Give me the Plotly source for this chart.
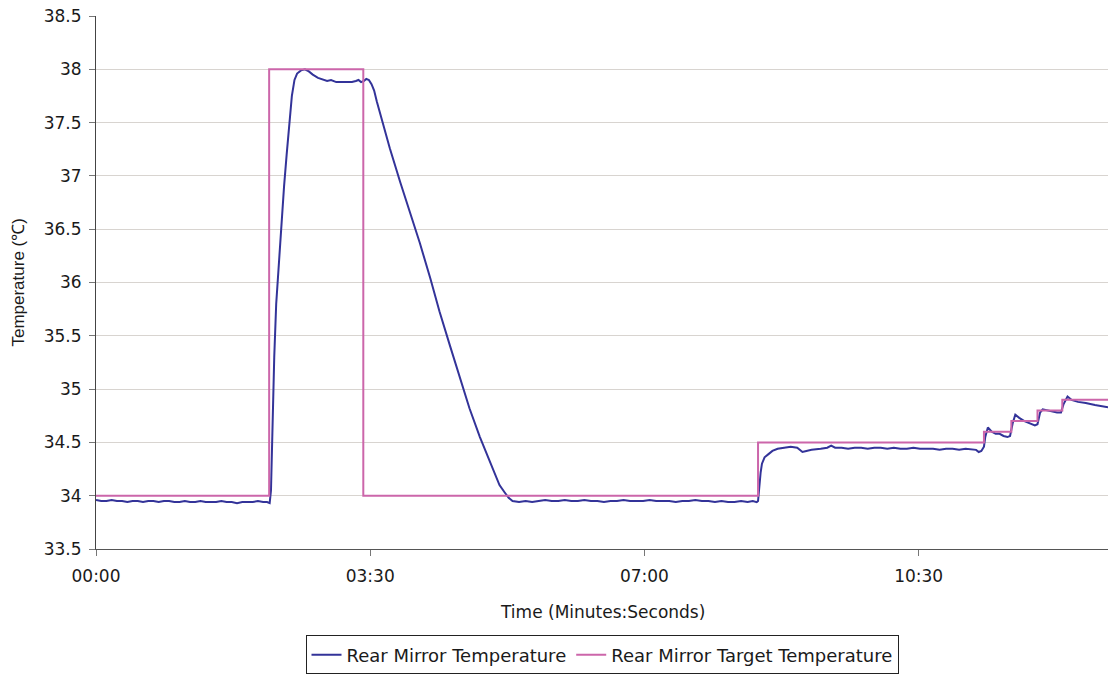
import plotly.graph_objects as go

# Rear mirror temperature log (time in seconds, temperature in °C)
meas_t = [
    0, 4, 8, 12, 16, 20, 24, 28, 32, 36, 40, 44, 48, 52, 56, 60, 64, 68, 72, 76,
    80, 84, 88, 92, 96, 100, 104, 108, 112, 116, 120, 124, 128, 131, 133,
    134, 135, 136.5, 138, 140, 142, 144, 146, 148, 150, 152, 154, 157, 160, 163,
    166, 170, 174, 177, 180, 184, 188, 192, 196, 199, 201, 203, 205, 207, 209,
    211, 213, 215, 218, 221, 225, 233, 241, 248, 256, 263, 271, 279, 286, 294,
    302, 309, 313, 316, 319, 324, 329, 334, 339, 344, 349, 354, 359, 364, 369,
    374, 379, 384, 389, 394, 399, 404, 409, 414, 419, 424, 429, 434, 439, 444,
    449, 454, 459, 464, 469, 474, 479, 484, 489, 494, 499, 503, 506,
    507, 508, 509, 510, 512, 515, 518, 522, 527, 532, 537, 539, 541, 544, 548,
    555, 560, 563, 566, 571, 576, 581, 586, 591, 596, 601, 606, 611, 616, 621,
    626, 631, 636, 641, 646, 651, 656, 661, 666, 671, 674, 676, 678, 680,
    681, 683, 686, 689, 692, 695, 698, 700, 702, 704, 707, 711, 715, 719, 721,
    723, 725, 728, 732, 736, 739, 741, 744, 747, 752, 758, 765, 770, 775,
]
meas_v = [
    33.96, 33.95, 33.95, 33.96, 33.95, 33.95, 33.94, 33.95, 33.95, 33.94, 33.95,
    33.95, 33.94, 33.95, 33.95, 33.94, 33.94, 33.95, 33.94, 33.94, 33.95, 33.94,
    33.94, 33.94, 33.95, 33.94, 33.94, 33.93, 33.94, 33.94, 33.94, 33.95, 33.94,
    33.94, 33.93,
    34.05, 34.6, 35.3, 35.8, 36.2, 36.6, 36.9, 37.2, 37.5, 37.75, 37.9, 37.96,
    37.99, 38.0, 37.98, 37.95, 37.92, 37.9, 37.89, 37.9, 37.88, 37.88, 37.88,
    37.88, 37.89, 37.9, 37.88, 37.89, 37.91, 37.9, 37.86, 37.8, 37.7, 37.57,
    37.44, 37.26, 36.94, 36.64, 36.37, 36.04, 35.73, 35.41, 35.1, 34.82, 34.55,
    34.3, 34.1, 34.03, 33.98, 33.95, 33.94, 33.95, 33.94, 33.95, 33.96, 33.95,
    33.95, 33.96, 33.95, 33.95, 33.96, 33.95, 33.95, 33.94, 33.95, 33.95, 33.96,
    33.95, 33.95, 33.95, 33.96, 33.95, 33.95, 33.95, 33.94, 33.95, 33.95, 33.96,
    33.95, 33.95, 33.94, 33.95, 33.94, 33.94, 33.95, 33.94, 33.95, 33.94,
    33.95, 34.12, 34.22, 34.3, 34.36, 34.39, 34.42, 34.44, 34.45, 34.46, 34.45,
    34.43, 34.41, 34.42, 34.43, 34.44, 34.45, 34.47, 34.45, 34.45, 34.44, 34.45,
    34.45, 34.44, 34.45, 34.45, 34.44, 34.45, 34.44, 34.44, 34.45, 34.44, 34.44,
    34.44, 34.43, 34.44, 34.44, 34.43, 34.44, 34.43, 34.43, 34.41, 34.42, 34.46,
    34.55, 34.64, 34.6, 34.58, 34.58, 34.56, 34.55, 34.56, 34.68, 34.76, 34.73,
    34.7, 34.68, 34.66, 34.67, 34.78, 34.81, 34.8, 34.79, 34.78, 34.78, 34.86,
    34.93, 34.9, 34.88, 34.87, 34.85, 34.84, 34.83,
]

# Controller set point (step changes)
target_t = [0, 132.6, 204.7, 507.0, 680.0, 701.0, 721.0, 740.0, 775.0]
target_v = [34.0, 38.0, 34.0, 34.5, 34.6, 34.7, 34.8, 34.9, 34.9]

x_tick_seconds = [0, 210, 420, 630]
x_tick_labels = [f"{s // 60:02d}:{s % 60:02d}" for s in x_tick_seconds]
y_ticks = [33.5, 34, 34.5, 35, 35.5, 36, 36.5, 37, 37.5, 38, 38.5]
y_tick_labels = [f"{v:g}" for v in y_ticks]

WIDE = "DejaVu Sans, Verdana, sans-serif"
NARROW = "Liberation Sans, Arial, sans-serif"
TEXT = "#1a1a1a"

fig = go.Figure()
fig.add_trace(go.Scatter(
    x=meas_t, y=meas_v, mode="lines", name="Rear Mirror Temperature",
    line=dict(color="#333399", width=2),
))
fig.add_trace(go.Scatter(
    x=target_t, y=target_v, mode="lines", name="Rear Mirror Target Temperature",
    line=dict(color="#CC66AA", width=2, shape="hv"),
))

fig.update_layout(
    width=1112, height=677,
    margin=dict(l=96, r=4, t=16, b=127),
    paper_bgcolor="white", plot_bgcolor="white",
    font=dict(family=WIDE, size=17, color=TEXT),
    showlegend=True,
    legend=dict(
        orientation="h", x=0.5, xanchor="center", y=-0.16, yanchor="top",
        bordercolor="#222", borderwidth=1, font=dict(family=WIDE, size=18),
        itemwidth=30,
    ),
    annotations=[
        dict(text="Time (Minutes:Seconds)", x=0.5, y=-0.118, xref="paper",
             yref="paper", xanchor="center", yanchor="middle", showarrow=False,
             font=dict(family=WIDE, size=17)),
        dict(text="Temperature (℃)", x=-0.077, y=0.5, xref="paper",
             yref="paper", xanchor="center", yanchor="middle", showarrow=False,
             textangle=-90, font=dict(family=NARROW, size=17)),
    ],
)
fig.update_xaxes(
    range=[0, 775], tickvals=x_tick_seconds, ticktext=x_tick_labels,
    showgrid=False, zeroline=False, showline=True, linecolor="#555",
    linewidth=1, ticks="outside", ticklen=6, tickcolor="#777",
    tickfont=dict(family=WIDE, size=17), ticklabelstandoff=6,
)
fig.update_yaxes(
    range=[33.5, 38.5], tickvals=y_ticks, ticktext=y_tick_labels,
    showgrid=True, gridcolor="#D8D4D0", gridwidth=1, zeroline=False,
    showline=True, linecolor="#444", linewidth=1, ticks="outside",
    ticklen=6, tickcolor="#777", tickfont=dict(family=WIDE, size=17),
    ticklabelstandoff=4,
)

fig.write_html("out.html")
